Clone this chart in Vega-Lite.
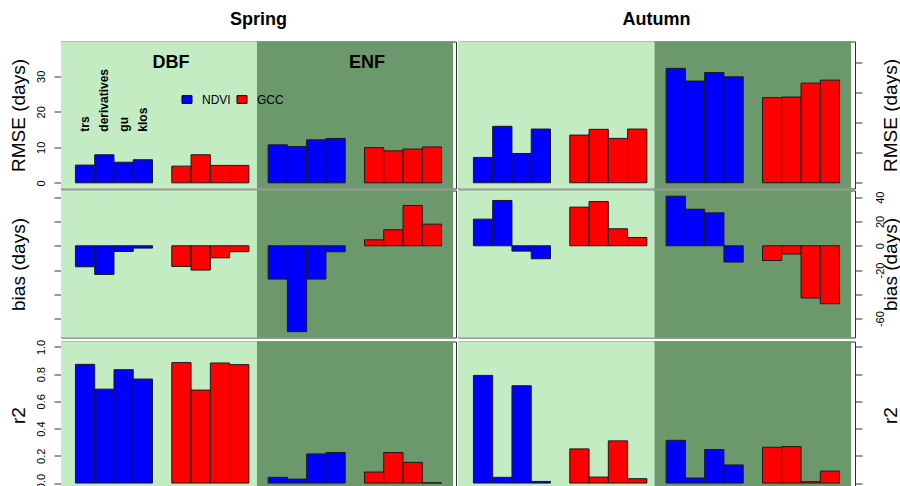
{
"$schema":"https://vega.github.io/schema/vega-lite/v6.json",
"padding":{"left":8,"top":10.5,"right":0,"bottom":6},
"background":"white",
"config":{"font":"Liberation Sans","view":{"stroke":"#333","strokeWidth":1},"axis":{"labelFont":"Liberation Sans","titleFont":"Liberation Sans","labelColor":"#000","titleColor":"#000","tickColor":"#333","grid":false,"domain":false,"tickSize":7,"labelFontSize":11,"titleFontSize":19,"titleFontWeight":"normal"}},
"datasets":{
"sites":[{"site":"DBF"},{"site":"ENF"}],
"metrics":[
{"season":"Spring","metric":"RMSE","site":"DBF","index":"NDVI","method":"trs","bar":"DBF-NDVI-trs","value":5.0},
{"season":"Spring","metric":"RMSE","site":"DBF","index":"NDVI","method":"derivatives","bar":"DBF-NDVI-derivatives","value":7.9},
{"season":"Spring","metric":"RMSE","site":"DBF","index":"NDVI","method":"gu","bar":"DBF-NDVI-gu","value":5.8},
{"season":"Spring","metric":"RMSE","site":"DBF","index":"NDVI","method":"klos","bar":"DBF-NDVI-klos","value":6.5},
{"season":"Spring","metric":"RMSE","site":"DBF","index":"GCC","method":"trs","bar":"DBF-GCC-trs","value":4.7},
{"season":"Spring","metric":"RMSE","site":"DBF","index":"GCC","method":"derivatives","bar":"DBF-GCC-derivatives","value":7.9},
{"season":"Spring","metric":"RMSE","site":"DBF","index":"GCC","method":"gu","bar":"DBF-GCC-gu","value":4.9},
{"season":"Spring","metric":"RMSE","site":"DBF","index":"GCC","method":"klos","bar":"DBF-GCC-klos","value":4.9},
{"season":"Spring","metric":"RMSE","site":"ENF","index":"NDVI","method":"trs","bar":"ENF-NDVI-trs","value":10.7},
{"season":"Spring","metric":"RMSE","site":"ENF","index":"NDVI","method":"derivatives","bar":"ENF-NDVI-derivatives","value":10.2},
{"season":"Spring","metric":"RMSE","site":"ENF","index":"NDVI","method":"gu","bar":"ENF-NDVI-gu","value":12.1},
{"season":"Spring","metric":"RMSE","site":"ENF","index":"NDVI","method":"klos","bar":"ENF-NDVI-klos","value":12.5},
{"season":"Spring","metric":"RMSE","site":"ENF","index":"GCC","method":"trs","bar":"ENF-GCC-trs","value":9.9},
{"season":"Spring","metric":"RMSE","site":"ENF","index":"GCC","method":"derivatives","bar":"ENF-GCC-derivatives","value":9.0},
{"season":"Spring","metric":"RMSE","site":"ENF","index":"GCC","method":"gu","bar":"ENF-GCC-gu","value":9.5},
{"season":"Spring","metric":"RMSE","site":"ENF","index":"GCC","method":"klos","bar":"ENF-GCC-klos","value":10.1},
{"season":"Autumn","metric":"RMSE","site":"DBF","index":"NDVI","method":"trs","bar":"DBF-NDVI-trs","value":8.4},
{"season":"Autumn","metric":"RMSE","site":"DBF","index":"NDVI","method":"derivatives","bar":"DBF-NDVI-derivatives","value":18.7},
{"season":"Autumn","metric":"RMSE","site":"DBF","index":"NDVI","method":"gu","bar":"DBF-NDVI-gu","value":9.7},
{"season":"Autumn","metric":"RMSE","site":"DBF","index":"NDVI","method":"klos","bar":"DBF-NDVI-klos","value":17.8},
{"season":"Autumn","metric":"RMSE","site":"DBF","index":"GCC","method":"trs","bar":"DBF-GCC-trs","value":15.8},
{"season":"Autumn","metric":"RMSE","site":"DBF","index":"GCC","method":"derivatives","bar":"DBF-GCC-derivatives","value":17.7},
{"season":"Autumn","metric":"RMSE","site":"DBF","index":"GCC","method":"gu","bar":"DBF-GCC-gu","value":14.7},
{"season":"Autumn","metric":"RMSE","site":"DBF","index":"GCC","method":"klos","bar":"DBF-GCC-klos","value":17.8},
{"season":"Autumn","metric":"RMSE","site":"ENF","index":"NDVI","method":"trs","bar":"ENF-NDVI-trs","value":37.9},
{"season":"Autumn","metric":"RMSE","site":"ENF","index":"NDVI","method":"derivatives","bar":"ENF-NDVI-derivatives","value":33.7},
{"season":"Autumn","metric":"RMSE","site":"ENF","index":"NDVI","method":"gu","bar":"ENF-NDVI-gu","value":36.5},
{"season":"Autumn","metric":"RMSE","site":"ENF","index":"NDVI","method":"klos","bar":"ENF-NDVI-klos","value":35.1},
{"season":"Autumn","metric":"RMSE","site":"ENF","index":"GCC","method":"trs","bar":"ENF-GCC-trs","value":28.2},
{"season":"Autumn","metric":"RMSE","site":"ENF","index":"GCC","method":"derivatives","bar":"ENF-GCC-derivatives","value":28.4},
{"season":"Autumn","metric":"RMSE","site":"ENF","index":"GCC","method":"gu","bar":"ENF-GCC-gu","value":33.0},
{"season":"Autumn","metric":"RMSE","site":"ENF","index":"GCC","method":"klos","bar":"ENF-GCC-klos","value":34.0},
{"season":"Spring","metric":"bias","site":"DBF","index":"NDVI","method":"trs","bar":"DBF-NDVI-trs","value":-17.3},
{"season":"Spring","metric":"bias","site":"DBF","index":"NDVI","method":"derivatives","bar":"DBF-NDVI-derivatives","value":-23.6},
{"season":"Spring","metric":"bias","site":"DBF","index":"NDVI","method":"gu","bar":"DBF-NDVI-gu","value":-4.7},
{"season":"Spring","metric":"bias","site":"DBF","index":"NDVI","method":"klos","bar":"DBF-NDVI-klos","value":-1.9},
{"season":"Spring","metric":"bias","site":"DBF","index":"GCC","method":"trs","bar":"DBF-GCC-trs","value":-17.0},
{"season":"Spring","metric":"bias","site":"DBF","index":"GCC","method":"derivatives","bar":"DBF-GCC-derivatives","value":-20.0},
{"season":"Spring","metric":"bias","site":"DBF","index":"GCC","method":"gu","bar":"DBF-GCC-gu","value":-9.9},
{"season":"Spring","metric":"bias","site":"DBF","index":"GCC","method":"klos","bar":"DBF-GCC-klos","value":-4.9},
{"season":"Spring","metric":"bias","site":"ENF","index":"NDVI","method":"trs","bar":"ENF-NDVI-trs","value":-27.4},
{"season":"Spring","metric":"bias","site":"ENF","index":"NDVI","method":"derivatives","bar":"ENF-NDVI-derivatives","value":-70.7},
{"season":"Spring","metric":"bias","site":"ENF","index":"NDVI","method":"gu","bar":"ENF-NDVI-gu","value":-27.4},
{"season":"Spring","metric":"bias","site":"ENF","index":"NDVI","method":"klos","bar":"ENF-NDVI-klos","value":-4.9},
{"season":"Spring","metric":"bias","site":"ENF","index":"GCC","method":"trs","bar":"ENF-GCC-trs","value":4.9},
{"season":"Spring","metric":"bias","site":"ENF","index":"GCC","method":"derivatives","bar":"ENF-GCC-derivatives","value":13.2},
{"season":"Spring","metric":"bias","site":"ENF","index":"GCC","method":"gu","bar":"ENF-GCC-gu","value":33.2},
{"season":"Spring","metric":"bias","site":"ENF","index":"GCC","method":"klos","bar":"ENF-GCC-klos","value":17.8},
{"season":"Autumn","metric":"bias","site":"DBF","index":"NDVI","method":"trs","bar":"DBF-NDVI-trs","value":21.9},
{"season":"Autumn","metric":"bias","site":"DBF","index":"NDVI","method":"derivatives","bar":"DBF-NDVI-derivatives","value":37.3},
{"season":"Autumn","metric":"bias","site":"DBF","index":"NDVI","method":"gu","bar":"DBF-NDVI-gu","value":-4.4},
{"season":"Autumn","metric":"bias","site":"DBF","index":"NDVI","method":"klos","bar":"DBF-NDVI-klos","value":-10.7},
{"season":"Autumn","metric":"bias","site":"DBF","index":"GCC","method":"trs","bar":"DBF-GCC-trs","value":31.8},
{"season":"Autumn","metric":"bias","site":"DBF","index":"GCC","method":"derivatives","bar":"DBF-GCC-derivatives","value":36.4},
{"season":"Autumn","metric":"bias","site":"DBF","index":"GCC","method":"gu","bar":"DBF-GCC-gu","value":14.0},
{"season":"Autumn","metric":"bias","site":"DBF","index":"GCC","method":"klos","bar":"DBF-GCC-klos","value":6.8},
{"season":"Autumn","metric":"bias","site":"ENF","index":"NDVI","method":"trs","bar":"ENF-NDVI-trs","value":40.8},
{"season":"Autumn","metric":"bias","site":"ENF","index":"NDVI","method":"derivatives","bar":"ENF-NDVI-derivatives","value":30.1},
{"season":"Autumn","metric":"bias","site":"ENF","index":"NDVI","method":"gu","bar":"ENF-NDVI-gu","value":27.1},
{"season":"Autumn","metric":"bias","site":"ENF","index":"NDVI","method":"klos","bar":"ENF-NDVI-klos","value":-13.4},
{"season":"Autumn","metric":"bias","site":"ENF","index":"GCC","method":"trs","bar":"ENF-GCC-trs","value":-12.1},
{"season":"Autumn","metric":"bias","site":"ENF","index":"GCC","method":"derivatives","bar":"ENF-GCC-derivatives","value":-6.8},
{"season":"Autumn","metric":"bias","site":"ENF","index":"GCC","method":"gu","bar":"ENF-GCC-gu","value":-43.0},
{"season":"Autumn","metric":"bias","site":"ENF","index":"GCC","method":"klos","bar":"ENF-GCC-klos","value":-47.7},
{"season":"Spring","metric":"r2","site":"DBF","index":"NDVI","method":"trs","bar":"DBF-NDVI-trs","value":0.872},
{"season":"Spring","metric":"r2","site":"DBF","index":"NDVI","method":"derivatives","bar":"DBF-NDVI-derivatives","value":0.690},
{"season":"Spring","metric":"r2","site":"DBF","index":"NDVI","method":"gu","bar":"DBF-NDVI-gu","value":0.833},
{"season":"Spring","metric":"r2","site":"DBF","index":"NDVI","method":"klos","bar":"DBF-NDVI-klos","value":0.764},
{"season":"Spring","metric":"r2","site":"DBF","index":"GCC","method":"trs","bar":"DBF-GCC-trs","value":0.885},
{"season":"Spring","metric":"r2","site":"DBF","index":"GCC","method":"derivatives","bar":"DBF-GCC-derivatives","value":0.683},
{"season":"Spring","metric":"r2","site":"DBF","index":"GCC","method":"gu","bar":"DBF-GCC-gu","value":0.882},
{"season":"Spring","metric":"r2","site":"DBF","index":"GCC","method":"klos","bar":"DBF-GCC-klos","value":0.870},
{"season":"Spring","metric":"r2","site":"ENF","index":"NDVI","method":"trs","bar":"ENF-NDVI-trs","value":0.042},
{"season":"Spring","metric":"r2","site":"ENF","index":"NDVI","method":"derivatives","bar":"ENF-NDVI-derivatives","value":0.029},
{"season":"Spring","metric":"r2","site":"ENF","index":"NDVI","method":"gu","bar":"ENF-NDVI-gu","value":0.214},
{"season":"Spring","metric":"r2","site":"ENF","index":"NDVI","method":"klos","bar":"ENF-NDVI-klos","value":0.224},
{"season":"Spring","metric":"r2","site":"ENF","index":"GCC","method":"trs","bar":"ENF-GCC-trs","value":0.081},
{"season":"Spring","metric":"r2","site":"ENF","index":"GCC","method":"derivatives","bar":"ENF-GCC-derivatives","value":0.224},
{"season":"Spring","metric":"r2","site":"ENF","index":"GCC","method":"gu","bar":"ENF-GCC-gu","value":0.152},
{"season":"Spring","metric":"r2","site":"ENF","index":"GCC","method":"klos","bar":"ENF-GCC-klos","value":0.002},
{"season":"Autumn","metric":"r2","site":"DBF","index":"NDVI","method":"trs","bar":"DBF-NDVI-trs","value":0.791},
{"season":"Autumn","metric":"r2","site":"DBF","index":"NDVI","method":"derivatives","bar":"DBF-NDVI-derivatives","value":0.042},
{"season":"Autumn","metric":"r2","site":"DBF","index":"NDVI","method":"gu","bar":"DBF-NDVI-gu","value":0.715},
{"season":"Autumn","metric":"r2","site":"DBF","index":"NDVI","method":"klos","bar":"DBF-NDVI-klos","value":0.012},
{"season":"Autumn","metric":"r2","site":"DBF","index":"GCC","method":"trs","bar":"DBF-GCC-trs","value":0.251},
{"season":"Autumn","metric":"r2","site":"DBF","index":"GCC","method":"derivatives","bar":"DBF-GCC-derivatives","value":0.044},
{"season":"Autumn","metric":"r2","site":"DBF","index":"GCC","method":"gu","bar":"DBF-GCC-gu","value":0.310},
{"season":"Autumn","metric":"r2","site":"DBF","index":"GCC","method":"klos","bar":"DBF-GCC-klos","value":0.032},
{"season":"Autumn","metric":"r2","site":"ENF","index":"NDVI","method":"trs","bar":"ENF-NDVI-trs","value":0.314},
{"season":"Autumn","metric":"r2","site":"ENF","index":"NDVI","method":"derivatives","bar":"ENF-NDVI-derivatives","value":0.037},
{"season":"Autumn","metric":"r2","site":"ENF","index":"NDVI","method":"gu","bar":"ENF-NDVI-gu","value":0.246},
{"season":"Autumn","metric":"r2","site":"ENF","index":"NDVI","method":"klos","bar":"ENF-NDVI-klos","value":0.133},
{"season":"Autumn","metric":"r2","site":"ENF","index":"GCC","method":"trs","bar":"ENF-GCC-trs","value":0.263},
{"season":"Autumn","metric":"r2","site":"ENF","index":"GCC","method":"derivatives","bar":"ENF-GCC-derivatives","value":0.268},
{"season":"Autumn","metric":"r2","site":"ENF","index":"GCC","method":"gu","bar":"ENF-GCC-gu","value":0.010},
{"season":"Autumn","metric":"r2","site":"ENF","index":"GCC","method":"klos","bar":"ENF-GCC-klos","value":0.088}
]},
"spacing":0,
"resolve":{"scale":{"fill":"independent"},"legend":{"fill":"independent"}},
"vconcat":[
{"spacing":0,"resolve":{"scale":{"fill":"independent"},"legend":{"fill":"independent"}},"hconcat":[
{"width":395,"height":147,
"title":{"text":"Spring","fontSize":18,"fontWeight":"bold","font":"Liberation Sans","color":"#000","baseline":"alphabetic","offset":-1.5},
"resolve":{"scale":{"x":"independent"}},
"layer":[
{"data":{"name":"sites"},"mark":{"type":"rect"},"encoding":{"x":{"field":"site","type":"nominal","scale":{"domain":["DBF","ENF"],"paddingInner":0,"paddingOuter":0.0077,"align":0},"axis":null},"fill":{"condition":{"test":"datum.site === 'DBF'","value":"#c3ecc3"},"value":"#6c996c"}}},
{"data":{"name":"metrics"},"transform":[{"filter":"datum.season === 'Spring' && datum.metric === 'RMSE'"}],"mark":{"type":"bar","stroke":"#1a1a1a","strokeWidth":1},
"encoding":{"x":{"field":"bar","type":"nominal","scale":{"domain":["DBF-NDVI-trs","DBF-NDVI-derivatives","DBF-NDVI-gu","DBF-NDVI-klos","s1","DBF-GCC-trs","DBF-GCC-derivatives","DBF-GCC-gu","DBF-GCC-klos","s2","ENF-NDVI-trs","ENF-NDVI-derivatives","ENF-NDVI-gu","ENF-NDVI-klos","s3","ENF-GCC-trs","ENF-GCC-derivatives","ENF-GCC-gu","ENF-GCC-klos"],"paddingInner":0,"paddingOuter":0.75},"axis":null},
"y":{"field":"value","type":"quantitative","scale":{"domain":[-1.6,39.8],"nice":false,"zero":false},"axis":{"orient":"left","values":[0,10,20,30],"format":"d","labelAngle":270,"labelAlign":"center","labelBaseline":"alphabetic","labelPadding":10,"title":"RMSE (days)","titleAngle":270,"titleAlign":"center","titleBaseline":"alphabetic","titleX":-37,"titleY":73.5}},
"fill":{"field":"index","type":"nominal","scale":{"domain":["NDVI","GCC"],"range":["#0000ff","#ff0000"]},"legend":{"orient":"none","legendX":120,"legendY":52,"direction":"horizontal","title":null,"symbolType":"M-1,-0.77L1,-0.77L1,0.77L-1,0.77Z","symbolSize":100,"symbolStrokeColor":"#000","symbolStrokeWidth":1,"labelFontSize":12,"labelFont":"Liberation Sans","labelColor":"#000","labelOffset":9,"columnPadding":4}}}},
{"data":{"name":"metrics"},"transform":[{"filter":"datum.season === 'Spring' && datum.metric === 'RMSE' && datum.site === 'DBF' && datum.index === 'NDVI'"}],"mark":{"type":"text","angle":270,"align":"left","baseline":"middle","fontSize":12,"fontWeight":"bold","font":"Liberation Sans","color":"#000"},
"encoding":{"x":{"field":"bar","type":"nominal","bandPosition":0.5,"scale":{"type":"band","domain":["DBF-NDVI-trs","DBF-NDVI-derivatives","DBF-NDVI-gu","DBF-NDVI-klos","s1","DBF-GCC-trs","DBF-GCC-derivatives","DBF-GCC-gu","DBF-GCC-klos","s2","ENF-NDVI-trs","ENF-NDVI-derivatives","ENF-NDVI-gu","ENF-NDVI-klos","s3","ENF-GCC-trs","ENF-GCC-derivatives","ENF-GCC-gu","ENF-GCC-klos"],"paddingInner":0,"paddingOuter":0.75},"axis":null},"y":{"datum":14.4},"text":{"field":"method"}}},
{"data":{"name":"sites"},"mark":{"type":"text","fontSize":18,"fontWeight":"bold","font":"Liberation Sans","color":"#000","baseline":"middle","dx":12},
"encoding":{"x":{"field":"site","type":"nominal","bandPosition":0.5,"scale":{"type":"band","domain":["DBF","ENF"],"paddingInner":0,"paddingOuter":0.0077,"align":0},"axis":null},"y":{"datum":33.8},"text":{"field":"site"}}}
]},
{"width":397,"height":147,
"title":{"text":"Autumn","fontSize":18,"fontWeight":"bold","font":"Liberation Sans","color":"#000","baseline":"alphabetic","offset":-1.5},
"resolve":{"scale":{"x":"independent"}},
"layer":[
{"data":{"name":"sites"},"mark":{"type":"rect"},"encoding":{"x":{"field":"site","type":"nominal","scale":{"domain":["DBF","ENF"],"paddingInner":0,"paddingOuter":0.0102,"align":0},"axis":null},"fill":{"condition":{"test":"datum.site === 'DBF'","value":"#c3ecc3"},"value":"#6c996c"}}},
{"data":{"name":"metrics"},"transform":[{"filter":"datum.season === 'Autumn' && datum.metric === 'RMSE'"}],"mark":{"type":"bar","stroke":"#1a1a1a","strokeWidth":1},
"encoding":{"x":{"field":"bar","type":"nominal","scale":{"domain":["DBF-NDVI-trs","DBF-NDVI-derivatives","DBF-NDVI-gu","DBF-NDVI-klos","s1","DBF-GCC-trs","DBF-GCC-derivatives","DBF-GCC-gu","DBF-GCC-klos","s2","ENF-NDVI-trs","ENF-NDVI-derivatives","ENF-NDVI-gu","ENF-NDVI-klos","s3","ENF-GCC-trs","ENF-GCC-derivatives","ENF-GCC-gu","ENF-GCC-klos"],"paddingInner":0,"paddingOuter":0.8},"axis":null},
"y":{"field":"value","type":"quantitative","scale":{"domain":[-1.9,46.8],"nice":false,"zero":false},"axis":{"orient":"right","values":[0,10,20,30,40],"labels":false,"title":"RMSE (days)","titleAngle":270,"titleAlign":"center","titleBaseline":"alphabetic","titleX":41,"titleY":73.5}},
"fill":{"field":"index","type":"nominal","scale":{"domain":["NDVI","GCC"],"range":["#0000ff","#ff0000"]},"legend":null}}}
]}
]},
{"spacing":0,"hconcat":[
{"width":395,"height":147,
"resolve":{"scale":{"x":"independent"}},
"layer":[
{"data":{"name":"sites"},"mark":{"type":"rect"},"encoding":{"x":{"field":"site","type":"nominal","scale":{"domain":["DBF","ENF"],"paddingInner":0,"paddingOuter":0.0077,"align":0},"axis":null},"fill":{"condition":{"test":"datum.site === 'DBF'","value":"#c3ecc3"},"value":"#6c996c"}}},
{"data":{"name":"metrics"},"transform":[{"filter":"datum.season === 'Spring' && datum.metric === 'bias'"}],"mark":{"type":"bar","stroke":"#1a1a1a","strokeWidth":1},
"encoding":{"x":{"field":"bar","type":"nominal","scale":{"domain":["DBF-NDVI-trs","DBF-NDVI-derivatives","DBF-NDVI-gu","DBF-NDVI-klos","s1","DBF-GCC-trs","DBF-GCC-derivatives","DBF-GCC-gu","DBF-GCC-klos","s2","ENF-NDVI-trs","ENF-NDVI-derivatives","ENF-NDVI-gu","ENF-NDVI-klos","s3","ENF-GCC-trs","ENF-GCC-derivatives","ENF-GCC-gu","ENF-GCC-klos"],"paddingInner":0,"paddingOuter":0.75},"axis":null},
"y":{"field":"value","type":"quantitative","scale":{"domain":[-75.5,45.5],"nice":false,"zero":false},"axis":{"orient":"left","values":[-60,-40,-20,0,20,40],"labels":false,"title":"bias (days)","titleAngle":270,"titleAlign":"center","titleBaseline":"alphabetic","titleX":-37,"titleY":73.5}},
"fill":{"field":"index","type":"nominal","scale":{"domain":["NDVI","GCC"],"range":["#0000ff","#ff0000"]},"legend":null}}}
]},
{"width":397,"height":147,
"resolve":{"scale":{"x":"independent"}},
"layer":[
{"data":{"name":"sites"},"mark":{"type":"rect"},"encoding":{"x":{"field":"site","type":"nominal","scale":{"domain":["DBF","ENF"],"paddingInner":0,"paddingOuter":0.0102,"align":0},"axis":null},"fill":{"condition":{"test":"datum.site === 'DBF'","value":"#c3ecc3"},"value":"#6c996c"}}},
{"data":{"name":"metrics"},"transform":[{"filter":"datum.season === 'Autumn' && datum.metric === 'bias'"}],"mark":{"type":"bar","stroke":"#1a1a1a","strokeWidth":1},
"encoding":{"x":{"field":"bar","type":"nominal","scale":{"domain":["DBF-NDVI-trs","DBF-NDVI-derivatives","DBF-NDVI-gu","DBF-NDVI-klos","s1","DBF-GCC-trs","DBF-GCC-derivatives","DBF-GCC-gu","DBF-GCC-klos","s2","ENF-NDVI-trs","ENF-NDVI-derivatives","ENF-NDVI-gu","ENF-NDVI-klos","s3","ENF-GCC-trs","ENF-GCC-derivatives","ENF-GCC-gu","ENF-GCC-klos"],"paddingInner":0,"paddingOuter":0.8},"axis":null},
"y":{"field":"value","type":"quantitative","scale":{"domain":[-75.5,45.5],"nice":false,"zero":false},"axis":{"orient":"right","values":[-60,-40,-20,0,20,40],"labelExpr":"datum.value === -40 ? '' : '' + datum.value","labelAngle":270,"labelAlign":"center","labelBaseline":"alphabetic","labelPadding":21,"title":"bias (days)","titleAngle":270,"titleAlign":"center","titleBaseline":"alphabetic","titleX":41,"titleY":73.5}},
"fill":{"field":"index","type":"nominal","scale":{"domain":["NDVI","GCC"],"range":["#0000ff","#ff0000"]},"legend":null}}}
]}
]},
{"spacing":0,"hconcat":[
{"width":395,"height":147,
"resolve":{"scale":{"x":"independent"}},
"layer":[
{"data":{"name":"sites"},"mark":{"type":"rect"},"encoding":{"x":{"field":"site","type":"nominal","scale":{"domain":["DBF","ENF"],"paddingInner":0,"paddingOuter":0.0077,"align":0},"axis":null},"fill":{"condition":{"test":"datum.site === 'DBF'","value":"#c3ecc3"},"value":"#6c996c"}}},
{"data":{"name":"metrics"},"transform":[{"filter":"datum.season === 'Spring' && datum.metric === 'r2'"}],"mark":{"type":"bar","stroke":"#1a1a1a","strokeWidth":1},
"encoding":{"x":{"field":"bar","type":"nominal","scale":{"domain":["DBF-NDVI-trs","DBF-NDVI-derivatives","DBF-NDVI-gu","DBF-NDVI-klos","s1","DBF-GCC-trs","DBF-GCC-derivatives","DBF-GCC-gu","DBF-GCC-klos","s2","ENF-NDVI-trs","ENF-NDVI-derivatives","ENF-NDVI-gu","ENF-NDVI-klos","s3","ENF-GCC-trs","ENF-GCC-derivatives","ENF-GCC-gu","ENF-GCC-klos"],"paddingInner":0,"paddingOuter":0.75},"axis":null},
"y":{"field":"value","type":"quantitative","scale":{"domain":[-0.04,1.04],"nice":false,"zero":false},"axis":{"orient":"left","values":[0,0.2,0.4,0.6,0.8,1],"format":".1f","labelAngle":270,"labelAlign":"center","labelBaseline":"alphabetic","labelPadding":10,"labelOffset":{"condition":{"test":"datum.value === 0","value":-2},"value":0},"title":"r2","titleAngle":270,"titleAlign":"center","titleBaseline":"alphabetic","titleX":-37,"titleY":73.5}},
"fill":{"field":"index","type":"nominal","scale":{"domain":["NDVI","GCC"],"range":["#0000ff","#ff0000"]},"legend":null}}}
]},
{"width":397,"height":147,
"resolve":{"scale":{"x":"independent"}},
"layer":[
{"data":{"name":"sites"},"mark":{"type":"rect"},"encoding":{"x":{"field":"site","type":"nominal","scale":{"domain":["DBF","ENF"],"paddingInner":0,"paddingOuter":0.0102,"align":0},"axis":null},"fill":{"condition":{"test":"datum.site === 'DBF'","value":"#c3ecc3"},"value":"#6c996c"}}},
{"data":{"name":"metrics"},"transform":[{"filter":"datum.season === 'Autumn' && datum.metric === 'r2'"}],"mark":{"type":"bar","stroke":"#1a1a1a","strokeWidth":1},
"encoding":{"x":{"field":"bar","type":"nominal","scale":{"domain":["DBF-NDVI-trs","DBF-NDVI-derivatives","DBF-NDVI-gu","DBF-NDVI-klos","s1","DBF-GCC-trs","DBF-GCC-derivatives","DBF-GCC-gu","DBF-GCC-klos","s2","ENF-NDVI-trs","ENF-NDVI-derivatives","ENF-NDVI-gu","ENF-NDVI-klos","s3","ENF-GCC-trs","ENF-GCC-derivatives","ENF-GCC-gu","ENF-GCC-klos"],"paddingInner":0,"paddingOuter":0.8},"axis":null},
"y":{"field":"value","type":"quantitative","scale":{"domain":[-0.04,1.04],"nice":false,"zero":false},"axis":{"orient":"right","values":[0,0.2,0.4,0.6,0.8,1],"labels":false,"title":"r2","titleAngle":270,"titleAlign":"center","titleBaseline":"alphabetic","titleX":41,"titleY":73.5}},
"fill":{"field":"index","type":"nominal","scale":{"domain":["NDVI","GCC"],"range":["#0000ff","#ff0000"]},"legend":null}}}
]}
]}
]
}
